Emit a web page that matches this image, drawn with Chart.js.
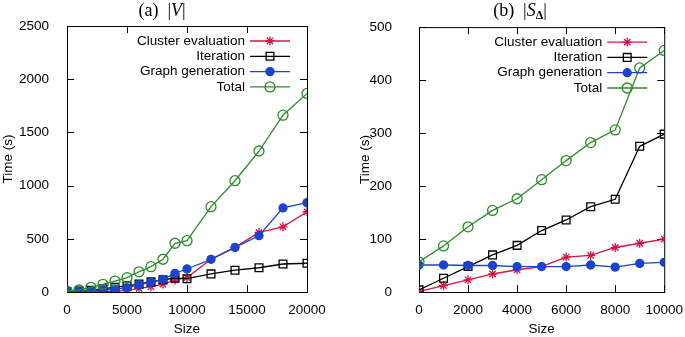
<!DOCTYPE html>
<html>
<head>
<meta charset="utf-8">
<script src="https://cdn.jsdelivr.net/npm/chart.js@4/dist/chart.umd.min.js"></script>
<style>
  body { margin: 0; background: #fff; }
  #wrap { position: relative; width: 685px; height: 337px; overflow: hidden; }
  canvas { position: absolute; top: 0; }
  #left { left: 0; }
  #right { left: 342px; }
  .ttl { position: absolute; top: 0; font-family: "Liberation Serif", "Times New Roman", serif; font-size: 18px; line-height: 20px; white-space: nowrap; transform: translateX(-50%); }
  .ttl i { font-style: italic; }
  .ttl sub { font-size: 12px; font-weight: bold; vertical-align: -3px; }
</style>
</head>
<body>
<div id="wrap">
  <canvas id="left" width="342" height="337"></canvas>
  <canvas id="right" width="343" height="337"></canvas>
  <div class="ttl" style="left:162px">(a)&nbsp; |<i>V</i>|</div>
  <div class="ttl" style="left:520px">(b)&nbsp; |<i>S</i><sub>Δ</sub>|</div>
</div>
<script>
const seriesNames = ['Cluster evaluation', 'Iteration', 'Graph generation', 'Total'];

// (a) |V|
const sizesV = [0, 1000, 2000, 3000, 4000, 5000, 6000, 7000, 8000, 9000, 10000, 12000, 14000, 16000, 18000, 20000];
const clusterV = [5, 5, 3, 3, 8, 12, 34, 50, 75, 113, 135, 307, 419, 560, 613, 754];
const iterV = [5, 8, 15, 30, 45, 58, 75, 95, 115, 130, 125, 170, 205, 228, 263, 270];
const graphV = [9, 9, 9, 19, 28, 41, 66, 91, 119, 175, 216, 307, 419, 529, 790, 840];
const totalV = [9, 19, 44, 72, 103, 135, 190, 238, 308, 458, 482, 802, 1046, 1325, 1662, 1866];

// (b) |S_Delta|
const sizesS = [0, 1000, 2000, 3000, 4000, 5000, 6000, 7000, 8000, 9000, 10000];
const clusterS = [1, 12, 23, 34, 42, 48, 66, 69, 84, 92, 100];
const iterS = [4, 26, 48, 70, 88, 116, 136, 161, 175, 275, 298];
const graphS = [51, 51, 50, 50, 48, 48, 48, 51, 47, 54, 56];
const totalS = [57, 87, 123, 154, 176, 212, 248, 282, 306, 423, 456];

const colors = ['#d81444', '#000000', '#1a44d0', '#2a8c2a'];
const styles = [
  { pointStyle: 'star', radius: 4.5, fill: false },
  { pointStyle: 'rect', radius: 5.5, fill: false },
  { pointStyle: 'circle', radius: 4, fill: true },
  { pointStyle: 'circle', radius: 5, fill: false }
];

Chart.defaults.font.family = '"Liberation Sans", Arial, sans-serif';
Chart.defaults.font.size = 13.5;
Chart.defaults.color = '#000';

function makeDatasets(xs, ys) {
  return ys.map((vals, i) => ({
    label: seriesNames[i],
    data: xs.map((x, j) => ({ x, y: vals[j] })),
    borderColor: colors[i],
    backgroundColor: styles[i].fill ? colors[i] : 'rgba(0,0,0,0)',
    borderWidth: 1.3,
    pointStyle: styles[i].pointStyle,
    pointRadius: styles[i].radius,
    pointBorderWidth: 1.3,
    pointBorderColor: colors[i],
    pointBackgroundColor: styles[i].fill ? colors[i] : 'rgba(0,0,0,0)',
    tension: 0,
    order: 3 - i
  }));
}

// gnuplot-like frame: box with ticks pointing inwards on all sides
const framePlugin = {
  id: 'frame',
  beforeDatasetsDraw(chart) {
    const { ctx, chartArea: a, scales } = chart;
    const tl = 7;
    ctx.save();
    ctx.strokeStyle = '#000';
    ctx.lineWidth = 1;
    ctx.strokeRect(a.left + 0.5, a.top + 0.5, a.right - a.left, a.bottom - a.top);
    ctx.beginPath();
    scales.x.ticks.forEach(t => {
      const px = Math.round(scales.x.getPixelForValue(t.value)) + 0.5;
      ctx.moveTo(px, a.bottom); ctx.lineTo(px, a.bottom - tl);
      ctx.moveTo(px, a.top); ctx.lineTo(px, a.top + tl);
    });
    scales.y.ticks.forEach(t => {
      const py = Math.round(scales.y.getPixelForValue(t.value)) + 0.5;
      ctx.moveTo(a.left, py); ctx.lineTo(a.left + tl, py);
      ctx.moveTo(a.right, py); ctx.lineTo(a.right - tl, py);
    });
    ctx.stroke();
    ctx.restore();
  }
};

// key in the top right corner: right aligned text, then line sample with marker
const keyPlugin = {
  id: 'gpKey',
  afterDatasetsDraw(chart) {
    const { ctx, chartArea: a } = chart;
    ctx.save();
    ctx.font = '13.5px "Liberation Sans", Arial, sans-serif';
    ctx.textAlign = 'right';
    ctx.textBaseline = 'middle';
    chart.data.datasets.forEach((ds, i) => {
      const y = a.top + 15 + i * 15.3;
      const x0 = a.right - 57, x1 = a.right - 17;
      ctx.fillStyle = '#000';
      ctx.fillText(ds.label, a.right - 62, y);
      ctx.strokeStyle = ds.borderColor;
      ctx.lineWidth = ds.borderWidth;
      ctx.beginPath();
      ctx.moveTo(x0, y); ctx.lineTo(x1, y);
      ctx.stroke();
      ctx.fillStyle = ds.pointBackgroundColor;
      ctx.lineWidth = ds.pointBorderWidth;
      Chart.helpers.drawPoint(ctx, { pointStyle: ds.pointStyle, radius: ds.pointRadius, borderWidth: ds.pointBorderWidth, rotation: 0 }, (x0 + x1) / 2, y);
    });
    ctx.restore();
  }
};

function makeChart(id, xs, ys, xMax, xStep, yMax, yStep, opts) {
  return new Chart(document.getElementById(id), {
    type: 'line',
    data: { datasets: makeDatasets(xs, ys) },
    plugins: [framePlugin, keyPlugin],
    options: {
      responsive: false,
      animation: false,
      layout: { padding: { top: opts.top, right: opts.right, left: opts.left, bottom: 0 } },
      plugins: { legend: { display: false }, tooltip: { enabled: false } },
      scales: {
        x: {
          type: 'linear',
          min: 0, max: xMax,
          grid: { display: false },
          border: { display: false },
          ticks: { stepSize: xStep, padding: 2, maxRotation: 0, callback: v => String(v) },
          title: { display: true, text: 'Size', padding: { top: 0, bottom: 0 } },
          afterFit: s => { s.height = 45; }
        },
        y: {
          min: 0, max: yMax,
          grid: { display: false },
          border: { display: false },
          ticks: { stepSize: yStep, padding: opts.tickPad, callback: v => String(v) },
          title: { display: true, text: 'Time (s)', padding: { top: 0, bottom: 0 } },
          afterFit: s => { s.width = opts.yWidth; }
        }
      }
    }
  });
}

makeChart('left', sizesV, [clusterV, iterV, graphV, totalV], 20000, 5000, 2500, 500,
  { top: 26, right: 35, left: 0, yWidth: 67, tickPad: 10 });
makeChart('right', sizesS, [clusterS, iterS, graphS, totalS], 10000, 2000, 500, 100,
  { top: 27, right: 19, left: 15, yWidth: 62, tickPad: 19 });
</script>
</body>
</html>
